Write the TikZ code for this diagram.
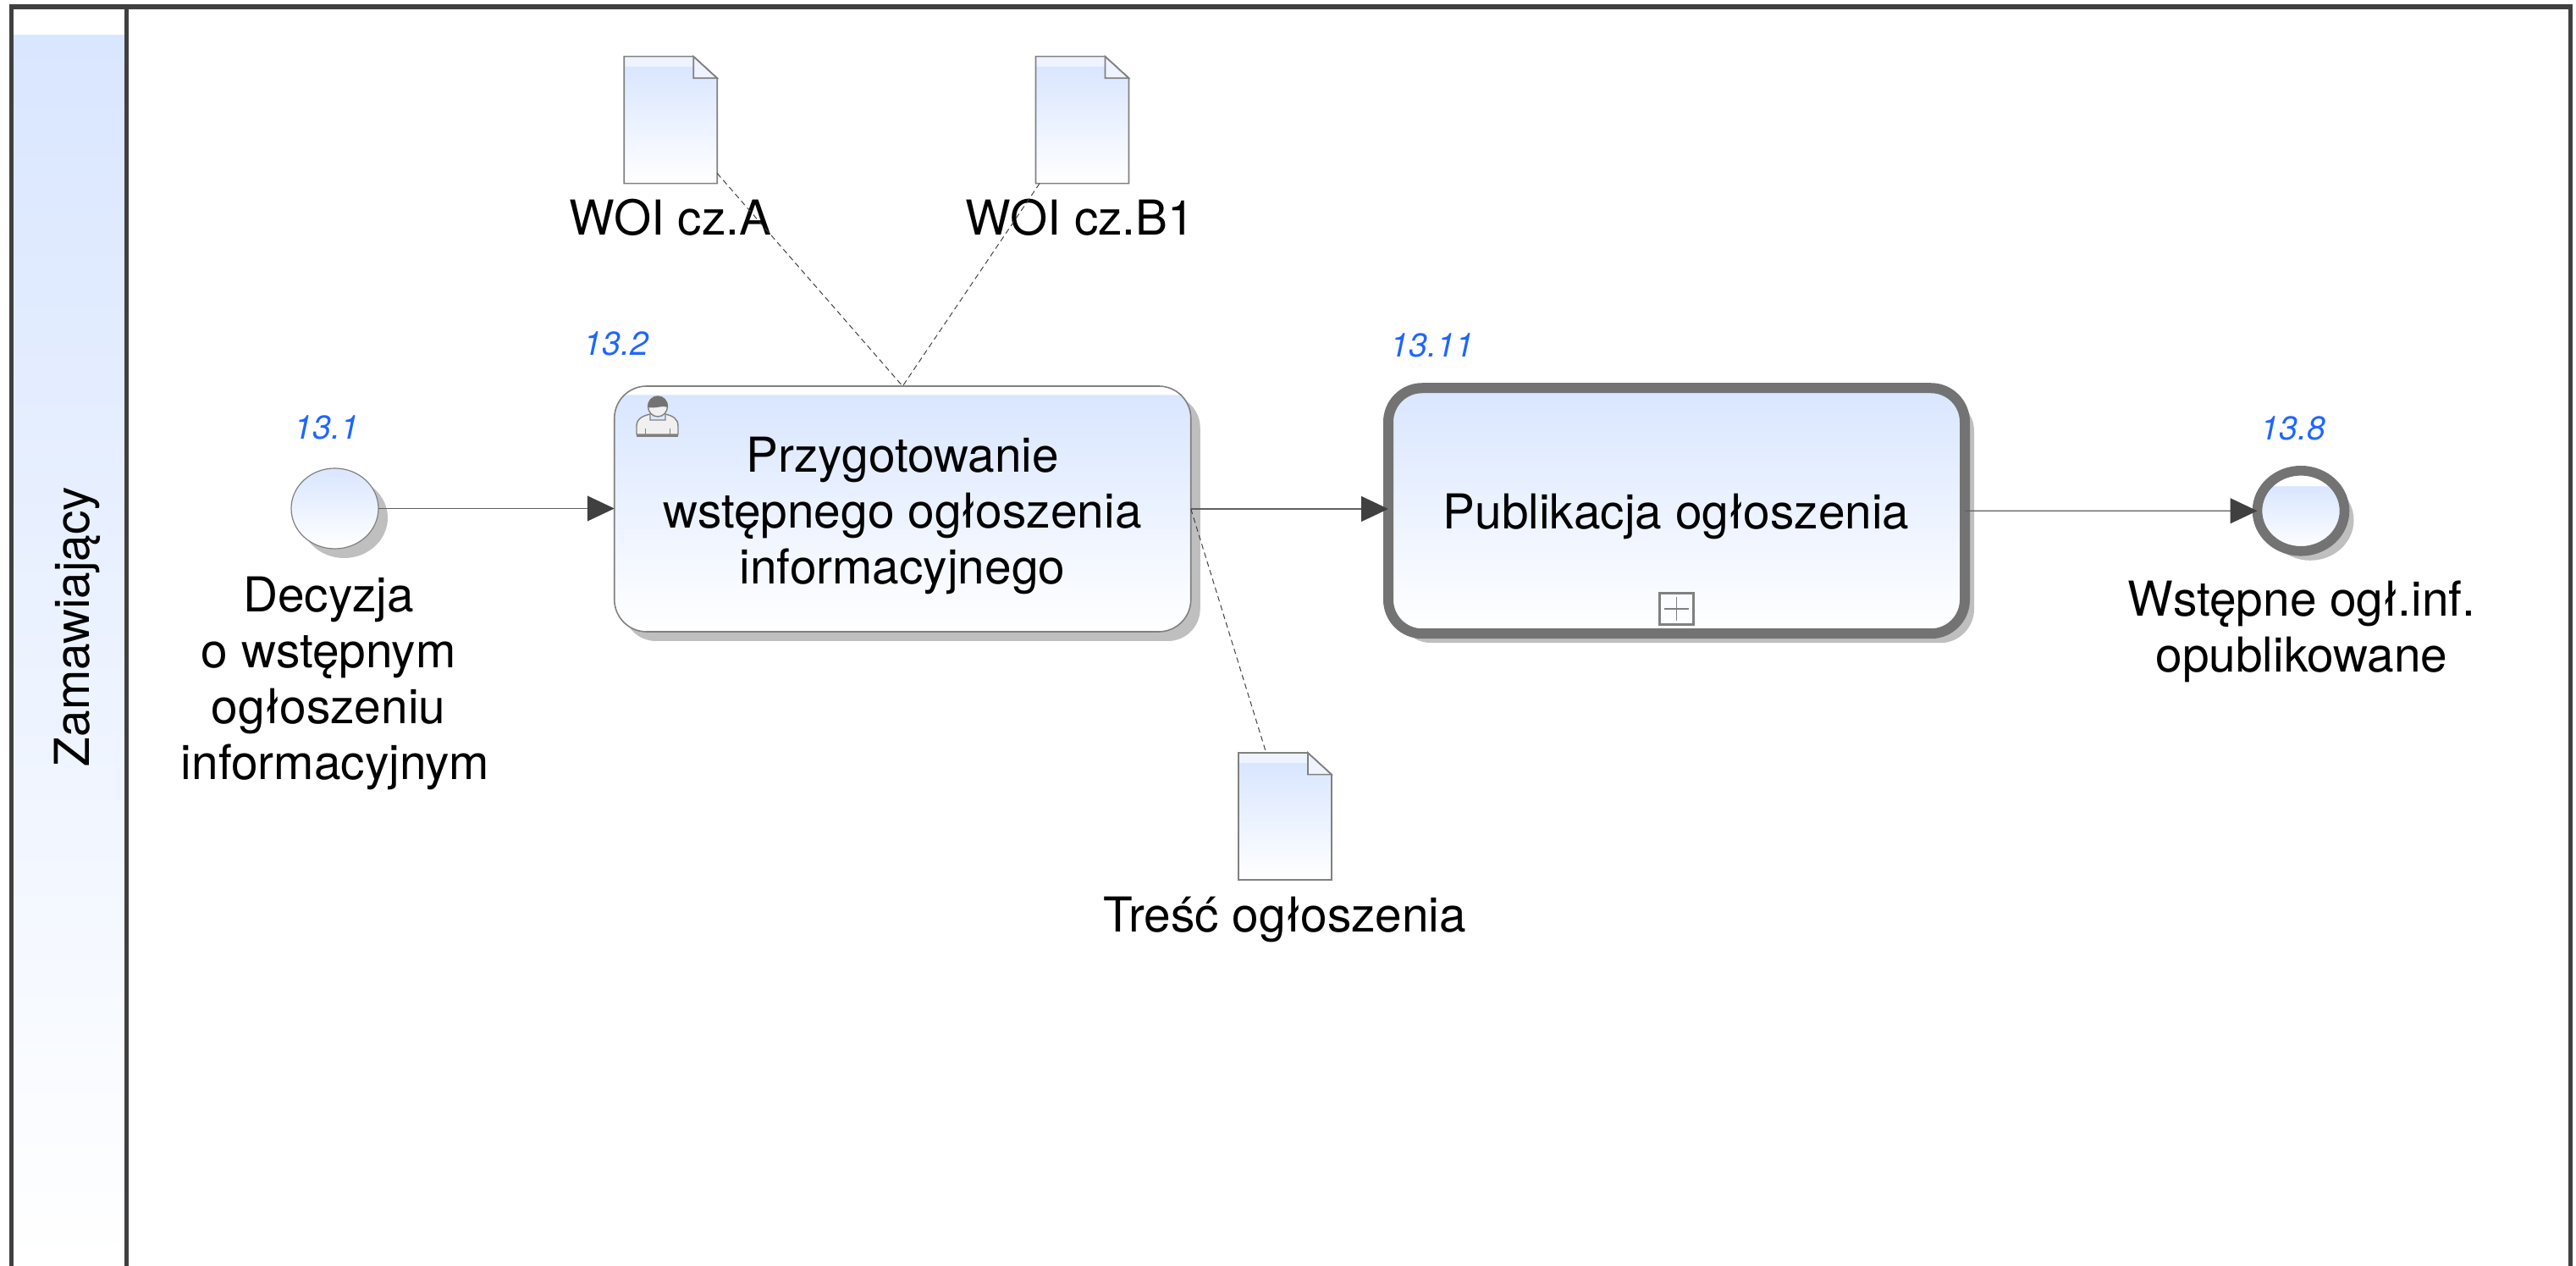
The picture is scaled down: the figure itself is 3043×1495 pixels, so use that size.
\documentclass[tikz,border=0pt]{standalone}
\usepackage{fontspec}
\setmainfont{TeX Gyre Heros}
\usetikzlibrary{shapes.geometric,arrows.meta,shadows,calc}

\definecolor{bluetop}{HTML}{D9E6FF}
\definecolor{bandblue}{HTML}{EEF3FF}
\definecolor{numblue}{HTML}{1F66FF}
\definecolor{poolgray}{HTML}{404040}
\definecolor{edgegray}{HTML}{808080}
\definecolor{linegray}{HTML}{606060}
\definecolor{thickgray}{HTML}{737373}
\definecolor{shadowgray}{HTML}{BFBFBF}

\pgfdeclareverticalshading{fadeplain}{100bp}{color(0bp)=(white); color(25bp)=(white); color(75bp)=(bluetop); color(100bp)=(bluetop)}
\pgfdeclareverticalshading{fadelane}{100bp}{color(0bp)=(white); color(25bp)=(white); color(74bp)=(bluetop); color(74.01bp)=(white); color(100bp)=(white)}
\pgfdeclareverticalshading{fadetask}{100bp}{color(0bp)=(white); color(25bp)=(white); color(73.3bp)=(bluetop); color(73.31bp)=(white); color(100bp)=(white)}
\pgfdeclareverticalshading{fadeend}{100bp}{color(0bp)=(white); color(25bp)=(white); color(65.5bp)=(bluetop); color(65.51bp)=(white); color(100bp)=(white)}
\pgfdeclareverticalshading{fadedoc}{100bp}{color(0bp)=(white); color(25bp)=(white); color(71bp)=(bluetop); color(71.01bp)=(bandblue); color(100bp)=(bandblue)}

\tikzset{
  bodytext/.style={font=\fontsize{14.2}{16.5}\selectfont,align=center,inner sep=0pt},
  numtext/.style={font=\fontsize{9.8}{12}\selectfont\itshape,text=numblue,inner sep=0pt},
  taskbox/.style={rectangle,rounded corners=9.5pt,minimum width=170.25pt,minimum height=72.5pt,
    inner sep=0pt,outer sep=0pt,draw=edgegray,line width=0.4pt,
    copy shadow={shadow xshift=2.75pt,shadow yshift=-2.75pt,fill=shadowgray,draw=none}},
  eventbox/.style={ellipse,minimum width=25.75pt,minimum height=23.75pt,inner sep=0pt,outer sep=0pt,
    copy shadow={shadow xshift=2.75pt,shadow yshift=-2.75pt,fill=shadowgray,draw=none}},
  docbox/.style={rectangle,minimum width=27.5pt,minimum height=37.5pt,inner sep=0pt,outer sep=0pt},
  flow/.style={draw=linegray,line width=0.3pt,-{Triangle[length=8pt,width=7.5pt,color=poolgray]}},
  assoc/.style={draw=poolgray,line width=0.25pt,dash pattern=on 1.6pt off 1.1pt}
}

\begin{document}
\begin{tikzpicture}[x=0.25pt,y=-0.25pt]
  \useasboundingbox (0,0) rectangle (3043,1495);
  % lane
  \shade[shading=fadelane] (15,11) rectangle (147,1495);
  \draw[poolgray,line width=1.45pt] (13.5,1495) -- (13.5,8) -- (3036.5,8) -- (3036.5,1495);
  \draw[poolgray,line width=1.3pt] (149.5,8) -- (149.5,1495);
  \node[bodytext,rotate=90] (lane) at (91,740) {Zamawiający};
  % events
  \node[eventbox,draw=edgegray,line width=0.3pt,shading=fadeplain] (start) at (395.5,600.5) {};
  \node[eventbox,draw=thickgray,line width=2.9pt,shading=fadeend] (end) at (2718,603.3) {};
  % tasks
  \node[taskbox,shading=fadetask] (prep) at (1066.25,601) {};
  \node[bodytext] (preptext) at (1066,609) {Przygotowanie\\wstępnego ogłoszenia\\informacyjnego};
  \node[taskbox,rounded corners=10pt,draw=thickgray,line width=3pt,shading=fadeplain] (publ) at (1980.5,603.25) {};
  \node[bodytext] (publtext) at (1980,610) {Publikacja ogłoszenia};
  % user icon
  \filldraw[fill=white!94!black,draw=edgegray,line width=0.35pt] (752,513) -- (752,503) .. controls (752,494) and (760,491) .. (768,489) -- (768,496) -- (786,496) -- (786,489) .. controls (794,491) and (801,494) .. (801,503) -- (801,513) -- cycle;
  \draw[edgegray,line width=0.7pt] (752,514.5) -- (801,514.5);
  \draw[edgegray,line width=0.25pt] (762,506) -- (762,513) (791,506) -- (791,513);
  \filldraw[fill=white!94!black,draw=edgegray,line width=0.35pt] (777,480) ellipse (11.5 and 12);
  \fill[thickgray] (765.5,481) .. controls (765,472) and (771,468) .. (777,468) .. controls (783,468) and (789,472) .. (789,481) .. controls (783,478) and (775,483) .. cycle;
  % plus marker
  \node[rectangle,draw=edgegray,line width=0.6pt,minimum width=10pt,minimum height=9.2pt,inner sep=0pt] (plus) at (1980.5,719) {};
  \draw[edgegray,line width=0.35pt] (1966,719) -- (1995,719) (1980.5,705) -- (1980.5,733);
  % documents
  \foreach \name/\x/\y in {docA/792.2/141.7,docB/1278.5/141.7,docC/1518/964} {
    \node[docbox] (\name) at (\x,\y) {};
    \shade[shading=fadedoc] (\name.north west) -- ($(\name.north east)+(-28,0)$) -- ($(\name.north east)+(0,25.6)$) -- (\name.south east) -- (\name.south west) -- cycle;
    \draw[edgegray,line width=0.4pt,fill=bandblue] ($(\name.north east)+(-28,0)$) -- ($(\name.north east)+(0,25.6)$) -- ($(\name.north east)+(-28,25.6)$) -- cycle;
    \draw[edgegray,line width=0.4pt] (\name.north west) -- ($(\name.north east)+(-28,0)$) -- ($(\name.north east)+(0,25.6)$) -- (\name.south east) -- (\name.south west) -- cycle;
  }
  % labels
  \node[bodytext] (startlabel) at (396,807) {Decyzja~\null\\o wstępnym~\null\\ogłoszeniu~\null\\informacyjnym};
  \node[bodytext] (endlabel) at (2719,746) {Wstępne ogł.inf.\\opublikowane};
  \node[bodytext] (docAlabel) at (792,257) {WOI cz.A};
  \node[bodytext] (docBlabel) at (1276,257) {WOI cz.B1};
  \node[bodytext] (docClabel) at (1518,1086) {Treść ogłoszenia};
  % numbers
  \node[numtext] (num1) at (386,505) {13.1};
  \node[numtext] (num2) at (728,406) {13.2};
  \node[numtext] (num3) at (1692,408) {13.11};
  \node[numtext] (num4) at (2709,506) {13.8};
  % flows
  \draw[flow] (start.east) -- (start.east -| prep.west);
  \draw[flow] (prep.east) -- (prep.east -| publ.west);
  \draw[flow] (publ.east) -- (end.west);
  % associations
  \draw[assoc] ($(docA.south east)+(0,-12)$) -- (prep.north);
  \draw[assoc] ($(docB.south west)+(4.5,0)$) -- (prep.north);
  \draw[assoc] (prep.east) -- ($(docC.north west)+(32.7,0)$);
\end{tikzpicture}
\end{document}
